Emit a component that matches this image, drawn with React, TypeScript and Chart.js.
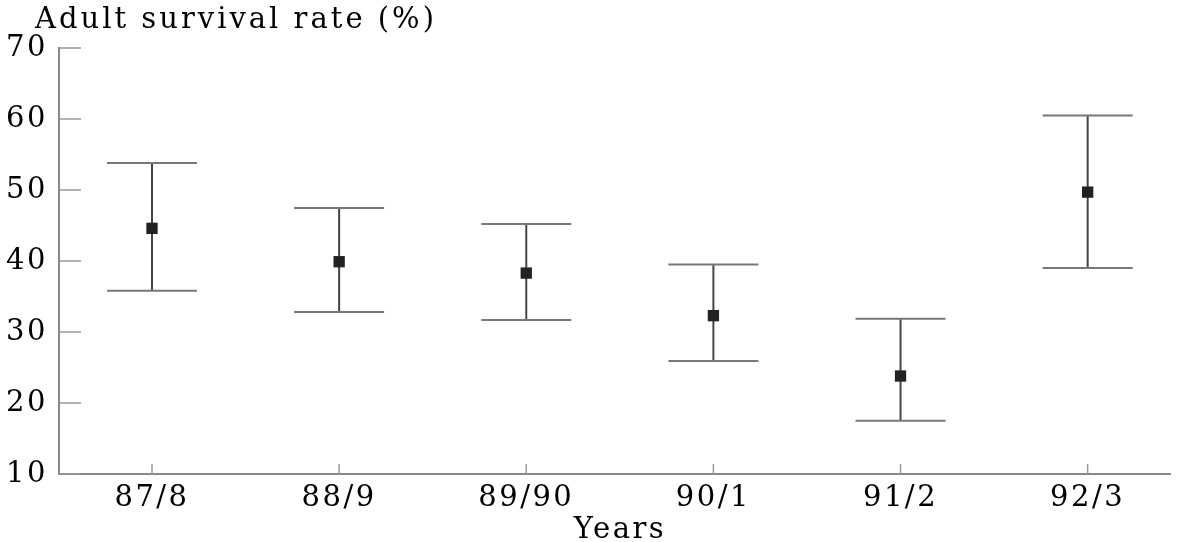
import React, { useEffect, useRef } from "react";
import { Chart, registerables } from "chart.js";

Chart.register(...registerables);

const years = ["87/8", "88/9", "89/90", "90/1", "91/2", "92/3"];
const survival = [44.6, 39.9, 38.3, 32.3, 23.8, 49.7];
const upperLimit = [53.8, 47.45, 45.2, 39.5, 31.85, 60.5];
const lowerLimit = [35.8, 32.8, 31.7, 25.9, 17.5, 39.0];
const yTicks = [10, 20, 30, 40, 50, 60, 70];

const FONT = "'DejaVu Serif', serif";
const LS = "2.5px";

export default function App() {
  const ref = useRef<HTMLCanvasElement>(null);
  useEffect(() => {
    const canvas = ref.current;
    if (!canvas) return;

    const spacingPlugin = {
      id: "spacing",
      beforeDraw(chart: any) {
        (chart.ctx as any).letterSpacing = LS;
      },
      afterDraw(chart: any) {
        (chart.ctx as any).letterSpacing = "0px";
      },
    };

    const errorBars = {
      id: "errorBars",
      beforeDatasetsDraw(chart: any) {
        const ctx = chart.ctx;
        const xs = chart.scales.x;
        const ys = chart.scales.y;
        const area = chart.chartArea;
        ctx.save();
        ctx.strokeStyle = "#999";
        ctx.lineWidth = 1.5;
        yTicks.forEach((t) => {
          const py = ys.getPixelForValue(t);
          ctx.beginPath();
          ctx.moveTo(area.left, py);
          ctx.lineTo(area.left + 22, py);
          ctx.stroke();
        });
        years.forEach((_, i) => {
          const px = xs.getPixelForValue(i);
          ctx.beginPath();
          ctx.moveTo(px, area.bottom);
          ctx.lineTo(px, area.bottom - 10);
          ctx.stroke();
        });
        years.forEach((_, i) => {
          const px = xs.getPixelForValue(i);
          const pu = ys.getPixelForValue(upperLimit[i]);
          const pl = ys.getPixelForValue(lowerLimit[i]);
          ctx.strokeStyle = "#444";
          ctx.lineWidth = 2;
          ctx.beginPath();
          ctx.moveTo(px, pu);
          ctx.lineTo(px, pl);
          ctx.stroke();
          ctx.strokeStyle = "#777";
          ctx.lineWidth = 2;
          ctx.beginPath();
          ctx.moveTo(px - 45, pu);
          ctx.lineTo(px + 45, pu);
          ctx.moveTo(px - 45, pl);
          ctx.lineTo(px + 45, pl);
          ctx.stroke();
        });
        ctx.restore();
      },
      afterDraw(chart: any) {
        const ctx = chart.ctx;
        ctx.save();
        (ctx as any).letterSpacing = "3px";
        ctx.fillStyle = "#000";
        ctx.font = `29px ${FONT}`;
        ctx.textAlign = "left";
        ctx.textBaseline = "middle";
        ctx.fillText("Adult survival rate (%)", 35, 20);
        (ctx as any).letterSpacing = "2.5px";
        ctx.textAlign = "center";
        ctx.fillText("Years", 620, 530);
        ctx.restore();
      },
    };

    const chart = new Chart(canvas, {
      type: "scatter",
      data: {
        datasets: [
          {
            label: "Adult survival rate",
            data: survival.map((v, i) => ({ x: i, y: v })),
            pointStyle: "rect",
            pointRadius: 8,
            backgroundColor: "#222",
            borderColor: "#222",
            borderWidth: 0,
          },
        ],
      },
      options: {
        animation: false,
        responsive: false,
        maintainAspectRatio: false,
        layout: { padding: { top: 48, right: 9, left: 0, bottom: 0 } },
        plugins: { legend: { display: false }, tooltip: { enabled: false } },
        scales: {
          x: {
            type: "linear",
            min: -0.497,
            max: 5.44,
            afterBuildTicks: (s: any) => {
              s.ticks = years.map((_, i) => ({ value: i }));
            },
            afterFit: (s: any) => {
              s.height = 68;
            },
            grid: { display: false, drawTicks: false },
            border: { display: true, color: "#888", width: 2 },
            ticks: {
              autoSkip: false,
              maxRotation: 0,
              padding: 7,
              color: "#000",
              font: { family: FONT, size: 29 },
              callback: (v: any) => years[Math.round(Number(v))] ?? "",
            },
          },
          y: {
            min: 10,
            max: 70,
            afterBuildTicks: (s: any) => {
              s.ticks = yTicks.map((v) => ({ value: v }));
            },
            afterFit: (s: any) => {
              s.width = 59;
            },
            grid: { display: false, drawTicks: false },
            border: { display: true, color: "#888", width: 2 },
            ticks: {
              padding: 11,
              color: "#000",
              font: { family: FONT, size: 29 },
            },
          },
        },
      },
      plugins: [spacingPlugin, errorBars],
    });
    return () => chart.destroy();
  }, []);

  return (
    <div style={{ position: "fixed", left: 0, top: 0, width: 1179, height: 542, background: "#fff" }}>
      <canvas ref={ref} width={1179} height={542} style={{ width: 1179, height: 542 }} />
    </div>
  );
}
